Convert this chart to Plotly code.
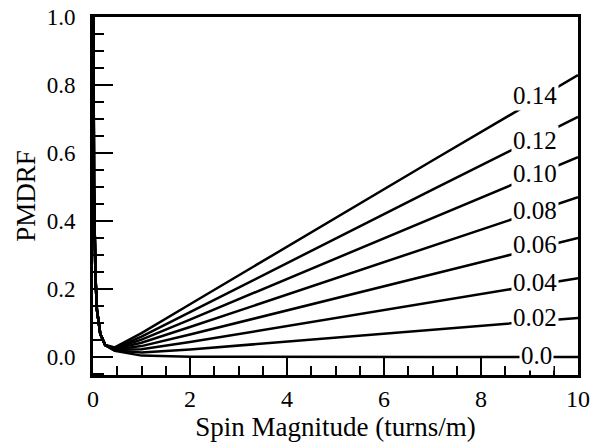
import plotly.graph_objects as go

# Spin magnitude sample points (turns/m)
x_vals = [0.01, 0.02, 0.05, 0.08, 0.15, 0.25, 0.45, 1.0, 2.0, 4.0, 7.0, 10.0]

# PMDRF curves, one per parameter value
series_names = ["0.0", "0.02", "0.04", "0.06", "0.08", "0.10", "0.12", "0.14"]
y_00 = [1.0, 0.5, 0.24, 0.14, 0.068, 0.035, 0.018, 0.004, 0.001, 0.0, 0.0, 0.0]
y_02 = [1.0, 0.5, 0.24, 0.14, 0.068, 0.035, 0.019, 0.013, 0.022, 0.045, 0.080, 0.115]
y_04 = [1.0, 0.5, 0.24, 0.14, 0.068, 0.035, 0.021, 0.023, 0.044, 0.091, 0.162, 0.232]
y_06 = [1.0, 0.5, 0.24, 0.14, 0.068, 0.035, 0.022, 0.032, 0.066, 0.137, 0.244, 0.350]
y_08 = [1.0, 0.5, 0.24, 0.14, 0.068, 0.035, 0.024, 0.042, 0.088, 0.184, 0.328, 0.470]
y_10 = [1.0, 0.5, 0.24, 0.14, 0.068, 0.035, 0.025, 0.051, 0.110, 0.230, 0.410, 0.588]
y_12 = [1.0, 0.5, 0.24, 0.14, 0.068, 0.035, 0.026, 0.060, 0.132, 0.277, 0.492, 0.706]
y_14 = [1.0, 0.5, 0.24, 0.14, 0.068, 0.035, 0.028, 0.070, 0.155, 0.325, 0.578, 0.829]
all_series = [y_00, y_02, y_04, y_06, y_08, y_10, y_12, y_14]

# Curve label positions (data coordinates)
label_x = [9.15, 9.12, 9.12, 9.12, 9.12, 9.12, 9.12, 9.12]
label_y = [0.005, 0.115, 0.218, 0.33, 0.432, 0.54, 0.638, 0.77]

x_ticks = [0, 2, 4, 6, 8, 10]
y_ticks = [0.0, 0.2, 0.4, 0.6, 0.8, 1.0]
y_tick_text = ["0.0", "0.2", "0.4", "0.6", "0.8", "1.0"]

FONT = "Liberation Serif, Times New Roman, serif"

fig = go.Figure()
for name, ys in zip(series_names, all_series):
    fig.add_trace(go.Scatter(x=x_vals, y=ys, mode="lines", name=name,
                             line=dict(color="black", width=2.5), showlegend=False))

for name, lx, ly in zip(series_names, label_x, label_y):
    fig.add_annotation(x=lx, y=ly, text=name, showarrow=False,
                       font=dict(family=FONT, size=25, color="black"),
                       bgcolor="white", borderpad=1, xanchor="center", yanchor="middle")

fig.update_layout(
    width=590, height=445,
    margin=dict(l=93, r=12, t=17, b=70),
    paper_bgcolor="white", plot_bgcolor="white",
    font=dict(family=FONT, size=24, color="black"),
)
fig.update_xaxes(
    range=[0, 10], tickvals=x_ticks, ticks="inside", ticklen=17, tickwidth=2,
    tickcolor="black", showgrid=False, zeroline=False, automargin=False,
    ticklabeloverflow="allow",
    showline=True, linecolor="black", linewidth=3, mirror=True,
    minor=dict(dtick=0.5, ticks="inside", ticklen=9, tickwidth=2, tickcolor="black", showgrid=False),
    title=dict(text="Spin Magnitude (turns/m)", font=dict(size=27), standoff=0),
    tickfont=dict(size=24),
)
fig.update_yaxes(
    range=[-0.053, 1.0], tickvals=y_ticks, ticktext=y_tick_text, ticks="inside",
    ticklen=20, tickwidth=2, tickcolor="black", showgrid=False, zeroline=False, automargin=False,
    ticklabeloverflow="allow", ticklabelstandoff=10,
    showline=True, linecolor="black", linewidth=3, mirror=True,
    minor=dict(dtick=0.05, tick0=0, ticks="inside", ticklen=11, tickwidth=2, tickcolor="black", showgrid=False),
    title=dict(text="PMDRF", font=dict(size=27), standoff=4),
    tickfont=dict(size=23),
)

fig.write_html("out.html")
